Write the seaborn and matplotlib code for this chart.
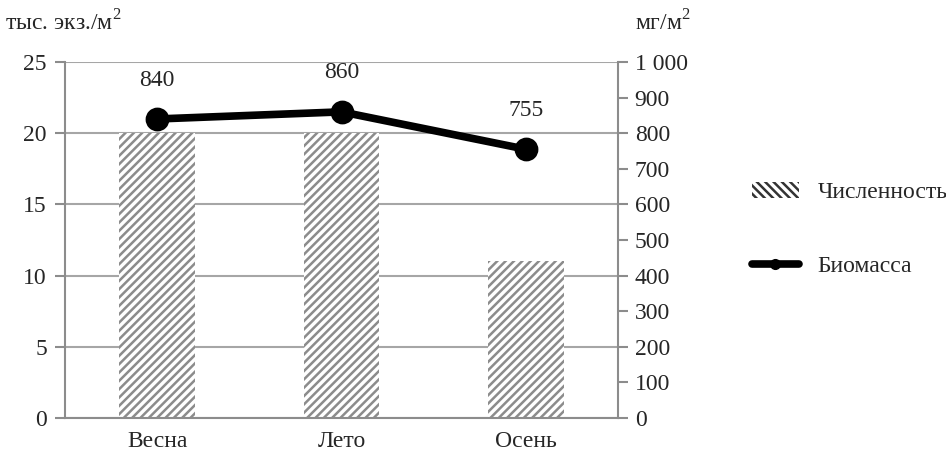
import pandas as pd
import matplotlib.pyplot as plt
import seaborn as sns
from matplotlib.patches import Patch
from matplotlib.lines import Line2D
from matplotlib.ticker import FuncFormatter, FixedLocator

seasons = ["Весна", "Лето", "Осень"]
abundance = [20, 20, 11]
biomass = [840, 860, 755]

left_label = r"тыс. экз./м$^\mathregular{2}$"
right_label = r"мг/м$^\mathregular{2}$"

GRAY = "#8c8c8c"

sns.set_style("white")
plt.rcParams["font.family"] = ["Liberation Serif", "DejaVu Serif"]
plt.rcParams["font.size"] = 17
plt.rcParams["mathtext.fontset"] = "custom"
plt.rcParams["mathtext.rm"] = "Liberation Serif"
plt.rcParams["hatch.linewidth"] = 1.8

df = pd.DataFrame({"season": seasons, "abundance": abundance, "biomass": biomass})

fig = plt.figure(figsize=(9.46, 4.57), dpi=100)
ax = fig.add_axes([0.0687, 0.0853, 0.5846, 0.779])

sns.barplot(data=df, x="season", y="abundance", ax=ax, width=0.41,
            color="white", edgecolor=GRAY, linewidth=0, hatch="////", zorder=2)

ax.set_ylim(0, 25)
ax.set_yticks(range(0, 26, 5))
ax.set_xlim(-0.5, 2.5)
ax.yaxis.grid(True, color="#a6a6a6", linewidth=1.5, zorder=0)
ax.set_axisbelow(True)
ax.set_xlabel("")
ax.set_ylabel("")
for s in ["top", "right"]:
    ax.spines[s].set_visible(False)
for s in ["left", "bottom"]:
    ax.spines[s].set_color(GRAY)
    ax.spines[s].set_linewidth(1.5)
ax.tick_params(axis="y", direction="out", length=7, width=1.5, color=GRAY, pad=6)
ax.tick_params(axis="x", which="major", length=0, pad=9)
ax.xaxis.set_minor_locator(FixedLocator([-0.5, 0.5, 1.5, 2.5]))
ax.tick_params(axis="x", which="minor", direction="out", length=7, width=1.5, color=GRAY)

ax2 = ax.twinx()
sns.pointplot(data=df, x="season", y="biomass", ax=ax2, color="black",
              markers="o", markersize=13, linewidth=5.5, errorbar=None)
ax2.set_ylim(0, 1000)
ax2.set_xlim(-0.5, 2.5)
ax2.set_yticks(range(0, 1001, 100))
ax2.yaxis.set_major_formatter(FuncFormatter(lambda v, p: f"{int(v):,}".replace(",", " ")))
ax2.set_xlabel("")
ax2.set_ylabel("")
for s in ["top", "left", "bottom"]:
    ax2.spines[s].set_visible(False)
ax2.spines["right"].set_color(GRAY)
ax2.spines["right"].set_linewidth(1.5)
ax2.tick_params(axis="y", direction="out", length=7, width=1.5, color=GRAY, pad=5)

for i, v in enumerate(biomass):
    ax2.annotate(str(v), (i, v), xytext=(0, 28), textcoords="offset points",
                 ha="center", va="center")

fig.text(0.005, 0.95, left_label, ha="left", va="center")
fig.text(0.671, 0.95, right_label, ha="left", va="center")

handles = [
    Patch(facecolor="white", edgecolor="#333333", linewidth=0, hatch="\\\\\\\\"),
    Line2D([0], [0], color="black", linewidth=5.5, marker="o", markersize=7),
]
fig.legend(handles, ["Численность", "Биомасса"], loc="center left",
           bbox_to_anchor=(0.772, 0.498), frameon=False, labelspacing=2.2,
           handlelength=2.0, handletextpad=0.8, fontsize=17)

plt.savefig("out.png", dpi=100)
